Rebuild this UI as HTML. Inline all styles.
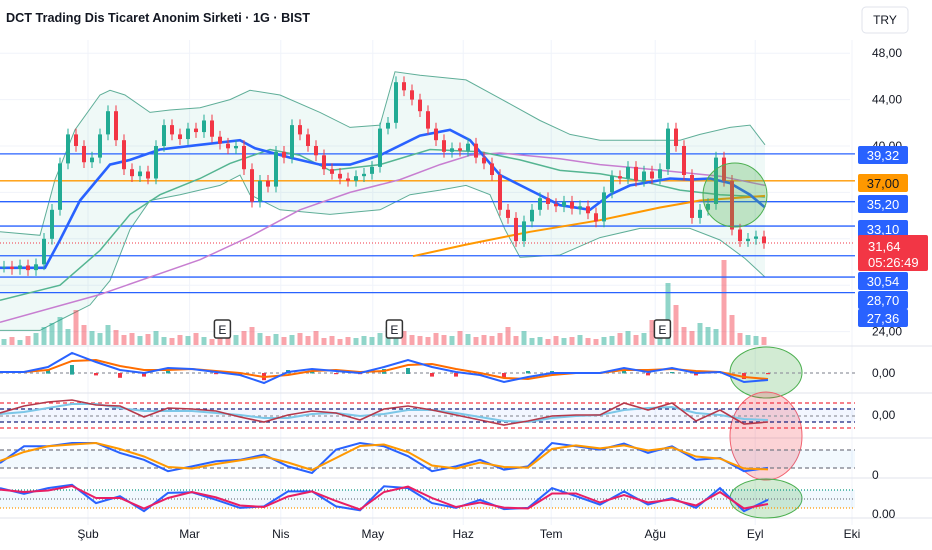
<!DOCTYPE html>
<html><head><meta charset="utf-8">
<style>
html,body{margin:0;padding:0;background:#fff;width:932px;height:550px;overflow:hidden;font-family:"Liberation Sans",sans-serif;}
svg{display:block}
</style></head>
<body>
<svg id="chart" width="932" height="550" viewBox="0 0 932 550" xmlns="http://www.w3.org/2000/svg">
<g id="grid"></g>
<g id="main"></g>
<g id="panes"></g>
<g id="axis"></g>
<text x="6" y="22" font-size="13" font-weight="bold" fill="#131722" textLength="304" lengthAdjust="spacingAndGlyphs">DCT Trading Dis Ticaret Anonim Sirketi · 1G · BIST</text>
<g><rect x="862" y="7" width="46" height="26" rx="4" fill="#fff" stroke="#e0e3eb"/><text x="885" y="24" font-size="12" text-anchor="middle" fill="#131722">TRY</text></g>
</svg>
<script>
// ---------- data ----------
const closes=[29.6,29.4,29.7,29.3,29.8,32.0,34.5,38.5,41.0,40.0,38.6,39.0,41.0,43.0,40.5,38.0,37.4,37.8,37.2,40.0,41.8,41.0,40.6,41.5,41.2,42.2,40.8,40.2,39.8,40.0,38.0,35.2,37.0,36.5,39.5,39.0,41.8,41.0,40.0,39.2,38.0,37.6,37.2,37.0,37.4,37.6,38.2,41.5,42.0,45.5,44.8,44.0,43.0,41.5,40.5,39.5,39.8,39.6,40.2,39.0,38.5,37.5,34.5,33.8,31.8,33.5,34.5,35.5,35.0,34.8,35.2,34.6,34.8,34.2,33.5,36.0,37.4,37.2,38.2,37.0,37.8,37.2,38.0,41.5,40.0,37.5,33.8,34.5,35.0,39.0,37.0,32.8,31.8,32.0,32.2,31.64];
const volumes=[6,8,5,9,12,18,22,28,16,35,20,14,12,20,15,10,12,9,11,14,8,7,10,9,12,8,6,9,7,10,14,18,12,9,11,8,10,12,9,14,7,9,6,8,7,9,8,12,18,22,14,10,9,8,12,10,9,14,11,8,10,9,12,18,9,14,7,8,6,9,7,8,10,7,6,8,9,12,14,10,12,25,18,62,40,18,14,22,18,16,85,30,12,10,9,8];
const blueMA=[[0,29.5],[45,29.5],[60,31.9],[80,35.3],[110,38.4],[130,38.8],[160,39.7],[200,40.1],[240,40.5],[255,39.8],[290,39.0],[320,38.4],[350,38.4],[380,39.2],[420,40.9],[450,41.4],[470,40.5],[500,37.5],[530,36.2],[560,34.9],[590,34.5],[610,35.8],[630,36.6],[650,36.9],[670,37.2],[690,37.1],[710,37.2],[730,36.8],[750,35.8],[765,34.7]];
const greenMA=[[0,26.7],[60,28.0],[100,31.0],[130,34.1],[160,35.8],[200,37.2],[230,38.5],[270,39.7],[300,39.2],[330,37.9],[380,38.4],[430,39.7],[480,39.5],[520,38.8],[560,37.9],[600,37.6],[640,37.0],[680,36.2],[720,35.8],[765,35.6]];
const purpleMA=[[0,24.8],[100,27.2],[200,30.2],[250,32.2],[300,34.5],[350,36.0],[400,37.1],[440,38.4],[470,39.2],[500,39.4],[560,38.9],[600,38.4],[650,38.0],[720,37.4],[765,36.6]];
const orangeMA=[[413,30.5],[466,31.5],[530,32.6],[600,33.6],[660,34.7],[700,35.3],[765,35.7]];
const bbUpper=[[0,32.6],[40,32.3],[55,37.1],[75,41.4],[100,44.4],[110,44.8],[125,44.4],[150,42.9],[170,43.1],[200,43.3],[230,44.0],[250,44.8],[280,44.4],[320,42.9],[350,41.6],[380,41.8],[395,46.4],[420,46.1],[466,45.7],[500,44.1],[540,42.2],[570,41.0],[600,40.5],[640,40.5],[680,40.5],[700,41.0],[730,41.6],[750,41.8],[765,40.1]];
const bbLower=[[0,24.1],[40,24.1],[60,25.0],[90,26.3],[110,28.4],[130,32.8],[150,35.3],[180,35.8],[220,36.6],[240,37.5],[250,35.8],[280,34.5],[330,34.1],[380,34.5],[410,35.8],[440,36.2],[466,36.6],[490,35.8],[505,32.8],[520,30.4],[560,30.6],[600,32.1],[640,32.9],[690,32.9],[720,31.9],[745,30.3],[765,28.7]];
const levels=[39.32,37.00,35.20,33.10,30.54,28.70,27.36];
const levelLabels=["39,32","37,00","35,20","33,10","30,54","28,70","27,36"];
const priceTicks=[48,44,40,24];
const priceTickLabels=["48,00","44,00","40,00","24,00"];
const lastPrice=31.64, lastPriceLabel="31,64", countdown="05:26:49";
const months=["Şub","Mar","Nis","May","Haz","Tem","Ağu","Eyl","Eki"];
const monthIdx=[10.5,23.2,34.6,46.1,57.4,68.4,81.4,93.9,106];
const earnIdx=[27.3,48.8,82.3];
// indicator panes (sampled every 24px)
const macdLine=[1,1,6,20,11,3,0,5,4,1,-2,-10,1,4,2,0,6,13,6,1,-2,-9,-4,0,0,0,5,1,5,0,1,-9,-7];
const macdSignal=[1,1,3,12,13,7,3,3,4,2,0,-4,-2,2,3,1,2,8,9,4,0,-5,-6,-2,0,0,3,3,4,2,1,-4,-6];
const rsiLine=[3,10,14,16,11,10,-1,8,7,5,-1,-6,1,5,3,-4,7,10,6,1,-4,-9,-5,0,1,1,13,6,13,-5,6,-8,-6];
const rsiSmooth=[2,4,8,12,12,8,5,5,5,3,1,-2,-2,2,3,0,2,6,6,3,-1,-5,-6,-2,0,1,6,8,9,3,1,-3,-4];
const stochK=[33,89,89,100,100,67,44,6,22,39,44,61,22,0,78,100,89,56,6,22,44,11,22,100,89,78,98,67,89,44,50,6,17];
const stochD=[40,70,89,95,100,80,55,20,15,30,42,55,35,10,50,90,95,70,25,15,35,20,18,80,92,82,92,75,85,55,48,15,12];
const oscA=[83,64,83,94,33,56,6,67,69,44,17,22,72,72,22,9,89,83,33,17,44,13,17,83,56,28,72,28,50,17,83,6,44];
const oscB=[78,70,75,90,50,50,15,50,70,52,25,20,55,72,40,12,70,88,50,20,35,18,15,65,65,35,60,35,45,25,70,15,30];

// ---------- helpers ----------
const NS="http://www.w3.org/2000/svg";
function mk(tag,attrs,parent){const e=document.createElementNS(NS,tag);for(const k in attrs)e.setAttribute(k,attrs[k]);parent.appendChild(e);return e;}
const yP=p=>146+(40-p)*11.6;
const xI=i=>4+8*i;
const G=document.getElementById('grid'),M=document.getElementById('main'),P=document.getElementById('panes'),A=document.getElementById('axis');
const GREEN="#22ab94",RED="#f23645",BLUE="#2962ff";

// grid
monthIdx.forEach(mi=>{const l=mk('line',{x1:xI(mi),x2:xI(mi),y1:40,y2:525,stroke:"#f0f3fa"},G);});
[48,44,40,36,32,28,24].forEach(p=>{const l=mk('line',{x1:0,x2:850,y1:yP(p),y2:yP(p),stroke:"#f0f3fa"},G);});

// bollinger fill
function path(pts,fy){return pts.map((p,k)=>(k?'L':'M')+p[0]+','+fy(p[1]).toFixed(1)).join(' ');}
const fillD=path(bbUpper,yP)+' '+bbLower.slice().reverse().map(p=>'L'+p[0]+','+yP(p[1]).toFixed(1)).join(' ')+'Z';
let e=mk('path',{d:fillD,fill:"rgba(34,171,148,0.07)"},M);

e=mk('path',{d:path(bbUpper,yP),fill:"none",stroke:"#5fae98",'stroke-width':1},M);

e=mk('path',{d:path(bbLower,yP),fill:"none",stroke:"#5fae98",'stroke-width':1},M);


// volume
volumes.forEach((v,i)=>{const up=i==0||closes[i]>=closes[i-1];const r=mk('rect',{x:xI(i)-2.5,y:345-v,width:5,height:v,fill:up?"rgba(34,171,148,0.5)":"rgba(242,54,69,0.45)"},M);
});

// levels
levels.forEach((lv,k)=>{const l=mk('line',{x1:0,x2:855,y1:yP(lv),y2:yP(lv),stroke:k==1?"#ff9800":BLUE,'stroke-width':1.3},M);
});
e=mk('line',{x1:0,x2:855,y1:yP(lastPrice),y2:yP(lastPrice),stroke:RED,'stroke-dasharray':'1 2'},M);


// MAs
[[purpleMA,"#c77ed1",1.5,'ma-200'],[greenMA,"#55b592",1.5,'ma-50'],[orangeMA,"#ff9800",2,'ma-orange'],[blueMA,"#2962ff",2.6,'ma-20']].forEach(m=>{
 const p=mk('path',{d:path(m[0],yP),fill:"none",stroke:m[1],'stroke-width':m[2]},M);
 });

// candles
closes.forEach((c,i)=>{const o=i?closes[i-1]:c;const up=c>=o;const col=up?GREEN:RED;
 const hi=Math.max(o,c)+0.5,lo=Math.min(o,c)-0.5;const g=mk('g',{},M);
 
 mk('line',{x1:xI(i),x2:xI(i),y1:yP(hi),y2:yP(lo),stroke:col,'stroke-width':1},g);
 const t=Math.min(yP(o),yP(c));mk('rect',{x:xI(i)-2,y:t,width:4,height:Math.max(1,Math.abs(yP(o)-yP(c))),fill:col},g);});

// highlight circle
e=mk('circle',{cx:735,cy:195,r:32,fill:"rgba(76,175,80,0.3)",stroke:"#4caf50"},M);


// earnings markers
earnIdx.forEach(ei=>{const g=mk('g',{},M);
 mk('rect',{x:xI(ei)-8,y:320,width:16,height:18,rx:2,fill:"#fff",stroke:"#333",'stroke-width':1.5},g);
 const t=mk('text',{x:xI(ei),y:334,'font-size':12,'text-anchor':'middle',fill:"#131722"},g);t.textContent="E";});

// ---------- indicator panes ----------
const xs=k=>24*k;
function line(arr,fy,col,w,name){const d=arr.map((v,k)=>(k?'L':'M')+xs(k)+','+fy(v).toFixed(1)).join(' ');
 const p=mk('path',{d:d,fill:'none',stroke:col,'stroke-width':w},P);}
function hl(y,col,dash,name){const l=mk('line',{x1:0,x2:855,y1:y,y2:y,stroke:col,'stroke-dasharray':dash,'stroke-width':1.3},P);}
function sep(y){const l=mk('line',{x1:0,x2:932,y1:y,y2:y,stroke:"#e0e3eb"},P);}
function oval(y1,y2,col,name){const el=mk('ellipse',{cx:766,cy:(y1+y2)/2,rx:36,ry:(y2-y1)/2,fill:col[0],stroke:col[1]},P);}
sep(346);sep(393);sep(438);sep(478);sep(518);
oval(347,398,["rgba(76,175,80,0.25)","#4caf50"],'highlight-macd');
oval(392,480,["rgba(242,54,69,0.22)","#f26370"],'highlight-rsi-stoch');
oval(479,518,["rgba(76,175,80,0.25)","#4caf50"],'highlight-osc');
// MACD
const yM=v=>373-v;
hl(373,"#9598a1","3 3",'macd-zero');
macdLine.forEach((v,k)=>{const h=v-macdSignal[k];const r=mk('rect',{x:xs(k)-2,y:Math.min(yM(h),373),width:4,height:Math.abs(h)*1.2,fill:h>=0?"#26a69a":"#f23645"},P);
 });
line(macdSignal,yM,"#ff6d00",2,'macd-signal');
line(macdLine,yM,"#2962ff",2,'macd-line');
// RSI-like
const yR=v=>416-v;
mk('rect',{x:0,y:408,width:855,height:14,fill:"rgba(41,98,255,0.06)"},P);
hl(403,RED,"4 3",'upper-band-red');hl(428,RED,"4 3",'lower-band-red');
hl(409,"#1a237e","4 3",'upper-band-navy');hl(422,"#1a237e","4 3",'lower-band-navy');hl(416,"#9598a1","3 3",'mid-line');
line(rsiSmooth,yR,"#7cc7e8",2,'rsi-smooth');
line(rsiLine,yR,"#b5384a",1.6,'rsi-line');
// stochastic
const yS=v=>473-v*0.3;
mk('rect',{x:0,y:450,width:855,height:18,fill:"rgba(33,150,243,0.06)"},P);
hl(450,"#787b86","4 3",'stoch-upper');hl(468,"#787b86","4 3",'stoch-lower');
line(stochK,yS,"#2962ff",2,'stoch-k');
line(stochD,yS,"#ff9800",2,'stoch-d');
// oscillator
const yO=v=>513-v*0.3;
mk('rect',{x:0,y:490,width:855,height:18,fill:"rgba(33,150,243,0.06)"},P);
hl(490,"#089981","1 2",'osc-upper');hl(499,"#787b86","1 2",'osc-mid');hl(508,"#ff9800","1 2",'osc-lower');
line(oscA,yO,"#2962ff",2,'osc-fast');
line(oscB,yO,"#e91e63",2,'osc-slow');

// ---------- axes ----------
priceTicks.forEach((p,k)=>{const t=mk('text',{x:872,y:yP(p)+4,'font-size':12,fill:"#131722"},A);t.textContent=priceTickLabels[k];
 });
const labelY=[155,183,204,229,281,300,318];
levels.forEach((lv,k)=>{const g=mk('g',{},A);
 mk('rect',{x:858,y:labelY[k]-9,width:50,height:18,rx:2,fill:k==1?"#ff9800":BLUE},g);
 const t=mk('text',{x:883,y:labelY[k]+5,'font-size':13,'text-anchor':'middle',fill:k==1?"#131722":"#fff"},g);t.textContent=levelLabels[k];});
let g=mk('g',{},A);
mk('rect',{x:858,y:235,width:70,height:36,rx:2,fill:RED},g);
let t=mk('text',{x:868,y:251,'font-size':13,fill:"#fff"},g);t.textContent=lastPriceLabel;
t=mk('text',{x:868,y:267,'font-size':13,fill:"#fff"},g);t.textContent=countdown;
[["0,00",377],["0,00",419],["0",479],["0.00",518]].forEach(a=>{const tt=mk('text',{x:872,y:a[1],'font-size':12,fill:"#131722"},A);tt.textContent=a[0];
 });
months.forEach((m,k)=>{const tt=mk('text',{x:xI(monthIdx[k]),y:538,'font-size':12,'text-anchor':'middle',fill:"#131722"},A);tt.textContent=m;
 });
</script>
</body></html>
